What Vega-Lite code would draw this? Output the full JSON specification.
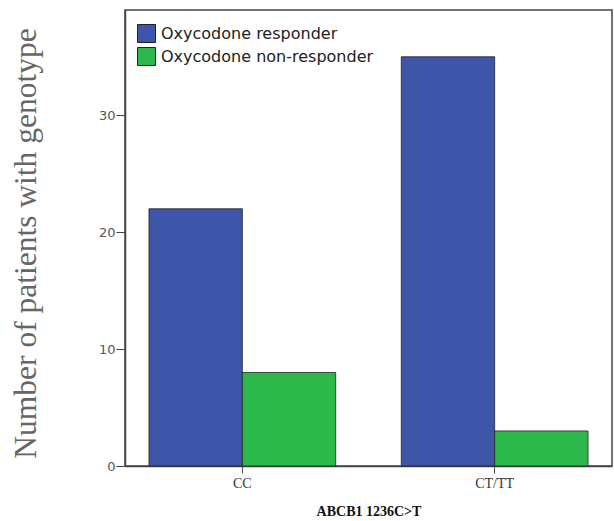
{
  "$schema": "https://vega.github.io/schema/vega-lite/v6.json",
  "autosize": "none",
  "width": 487,
  "height": 456,
  "padding": {"left": 125, "top": 10, "right": 2, "bottom": 55},
  "background": "white",
  "config": {
    "view": {"stroke": "#444444", "strokeWidth": 1.5},
    "axis": {"grid": false}
  },
  "data": {
    "values": [
      {"genotype": "CC", "group": "Oxycodone responder", "count": 22},
      {"genotype": "CC", "group": "Oxycodone non-responder", "count": 8},
      {"genotype": "CT/TT", "group": "Oxycodone responder", "count": 35},
      {"genotype": "CT/TT", "group": "Oxycodone non-responder", "count": 3}
    ]
  },
  "mark": {"type": "bar", "stroke": "#222222", "strokeWidth": 1, "strokeOpacity": 0.8},
  "encoding": {
    "x": {
      "field": "genotype",
      "type": "nominal",
      "sort": ["CC", "CT/TT"],
      "scale": {"paddingInner": 0.26, "paddingOuter": 0.095},
      "axis": {
        "title": "ABCB1 1236C>T",
        "titleFont": "Liberation Serif",
        "titleFontSize": 14,
        "titleFontWeight": "bold",
        "titleColor": "#111111",
        "titlePadding": 14,
        "labelAngle": 0,
        "labelFont": "Liberation Serif",
        "labelFontSize": 14,
        "labelColor": "#333333",
        "labelPadding": 3,
        "tickSize": 7,
        "tickColor": "#555555",
        "domainColor": "#444444",
        "domainWidth": 1.5
      }
    },
    "xOffset": {
      "field": "group",
      "type": "nominal",
      "sort": ["Oxycodone responder", "Oxycodone non-responder"],
      "scale": {"paddingInner": 0, "paddingOuter": 0}
    },
    "y": {
      "field": "count",
      "type": "quantitative",
      "scale": {"domain": [0, 39], "nice": false},
      "axis": {
        "title": "Number of patients with genotype",
        "titleFont": "Liberation Serif",
        "titleFontSize": 31.5,
        "titleFontWeight": "normal",
        "titleColor": "#666666",
        "titleAngle": -90,
        "titleX": -99,
        "titleY": 233,
        "titleAlign": "center",
        "titleBaseline": "middle",
        "values": [0, 10, 20, 30],
        "labelFont": "DejaVu Sans",
        "labelFontSize": 13,
        "labelColor": "#555555",
        "labelPadding": 1,
        "tickSize": 9,
        "tickColor": "#444444",
        "domainColor": "#444444",
        "domainWidth": 1.5
      }
    },
    "color": {
      "field": "group",
      "type": "nominal",
      "sort": ["Oxycodone responder", "Oxycodone non-responder"],
      "scale": {
        "domain": ["Oxycodone responder", "Oxycodone non-responder"],
        "range": ["#3D56A9", "#2DB84C"]
      },
      "legend": {
        "title": null,
        "orient": "none",
        "legendX": 12,
        "legendY": 14,
        "symbolType": "square",
        "symbolSize": 324,
        "symbolStrokeColor": "#222222",
        "symbolStrokeWidth": 1,
        "symbolOpacity": 1,
        "labelFont": "DejaVu Sans",
        "labelFontSize": 16,
        "labelColor": "#222222",
        "labelOffset": 5,
        "labelLimit": 400,
        "rowPadding": 0
      }
    }
  }
}
